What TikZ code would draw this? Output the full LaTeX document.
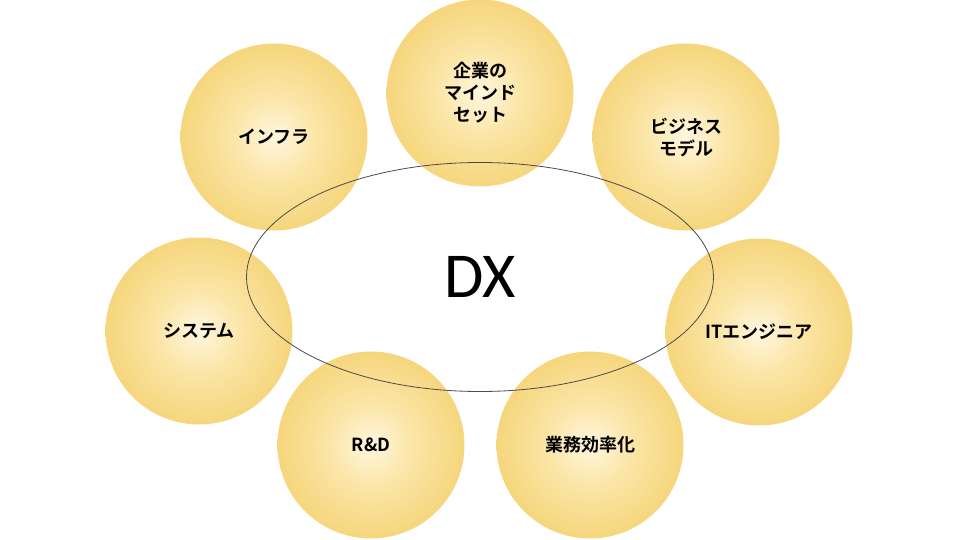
\documentclass[tikz,border=0pt]{standalone}
\usepackage{fontspec}
\setmainfont{Carlito}
\newfontfamily\jpfont{Noto Sans CJK JP}[BoldFont={* Bold}]
\usepackage{tikz}
\usetikzlibrary{shapes.geometric}

\definecolor{bubbleedge}{HTML}{F6D67D}
\definecolor{bubblemid}{HTML}{FBE6A8}
\definecolor{bubblecore}{HTML}{FFF6DF}
\definecolor{ringline}{HTML}{4A4A4A}
\pgfdeclareradialshading{bubbleshade}{\pgfpoint{0bp}{0bp}}{color(0bp)=(bubblecore); color(11bp)=(bubblemid); color(25bp)=(bubbleedge); color(50bp)=(bubbleedge)}

\begin{document}
\begin{tikzpicture}[x=1pt,y=-1pt,
		bubble/.style={circle, inner sep=0pt, minimum size=187pt,
			shading=bubbleshade,
			align=center, font=\jpfont\bfseries\fontsize{18}{22}\selectfont}]
		\useasboundingbox (0,0) rectangle (960,540);
		
		\node[bubble] (mind) at (480,93) {企業の\\マインド\\セット};
		\node[bubble] (infra) at (274,137) {インフラ};
		\node[bubble] (biz) at (686,137) {ビジネス\\モデル};
		\node[bubble] (sys) at (199,331) {システム};
		\node[bubble] (it) at (759,332) {ITエンジニア};
		\node[bubble] (rd) at (371,445) {R\&D};
		\node[bubble] (eff) at (590,445) {業務効率化};
		
		\node[draw=ringline, line width=0.8pt, ellipse, inner sep=0pt, minimum width=467pt, minimum height=229pt,
			font=\fontsize{64}{64}\selectfont] (dx) at (480,277) {DX};
		
	\end{tikzpicture}
\end{document}
